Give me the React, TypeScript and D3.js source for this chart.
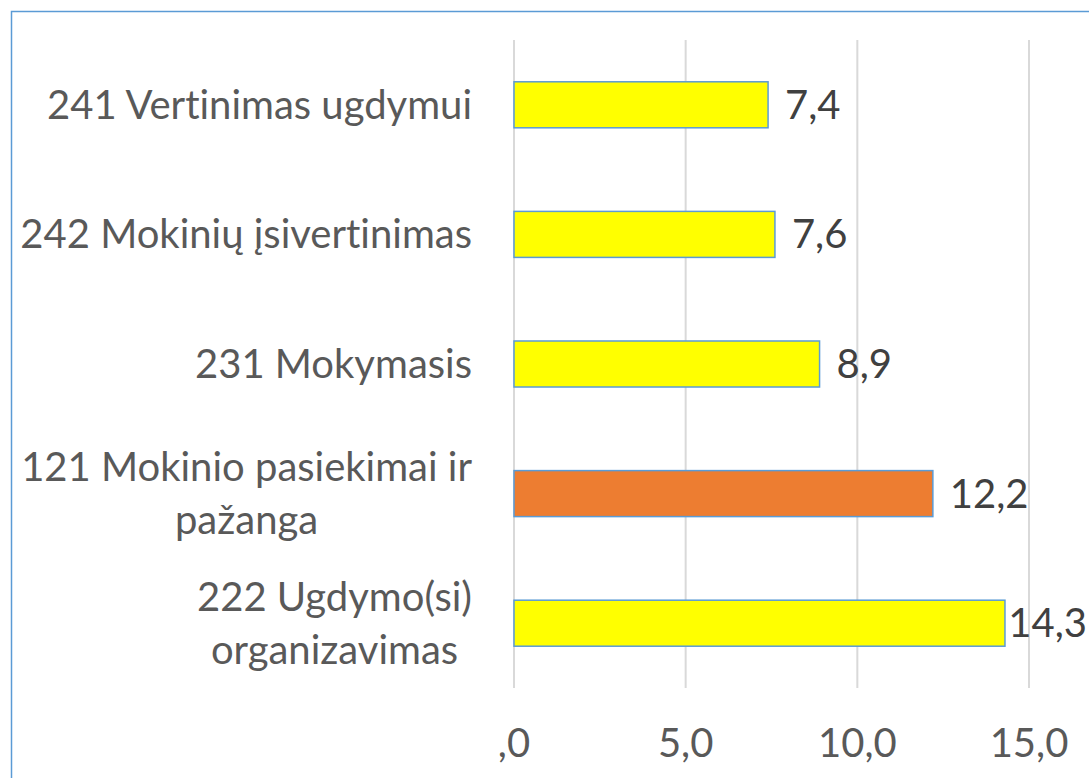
import { useEffect, useRef } from 'react';
import * as d3 from 'd3';

const categories = [
  '241 Vertinimas ugdymui',
  '242 Mokinių įsivertinimas',
  '231 Mokymasis',
  '121 Mokinio pasiekimai ir|pažanga',
  '222 Ugdymo(si)|organizavimas',
];
const values = [7.4, 7.6, 8.9, 12.2, 14.3];
const highlighted = ['121 Mokinio pasiekimai ir|pažanga'];
const xTicks = [0, 5, 10, 15];

const W = 1089;
const H = 778;
const FONT = 'Lato, "Open Sans", sans-serif';

export default function App() {
  const svgRef = useRef<SVGSVGElement | null>(null);

  useEffect(() => {
    if (!svgRef.current) return;
    const svg = d3.select(svgRef.current);
    svg.selectAll('*').remove();

    const MARGIN = { top: 40, right: 60, bottom: 90, left: 514 };
    const innerW = 1029 - MARGIN.left;
    const innerH = 688 - MARGIN.top;

    // chart frame
    svg.append('rect')
      .attr('x', 11.5).attr('y', 11.5)
      .attr('width', W + 20).attr('height', H + 20)
      .attr('fill', '#fff')
      .attr('stroke', '#5b9bd5')
      .attr('stroke-width', 1.5);

    const g = svg.append('g').attr('transform', `translate(${MARGIN.left},${MARGIN.top})`);

    const x = d3.scaleLinear().domain([0, 15]).range([0, innerW]);
    const y = d3.scaleBand().domain(categories).range([0, innerH]).paddingInner(0.645).paddingOuter(0.3225);

    // gridlines
    g.selectAll('.grid')
      .data(xTicks)
      .join('line')
      .attr('x1', d => x(d)).attr('x2', d => x(d))
      .attr('y1', 0).attr('y2', innerH)
      .attr('stroke', '#d9d9d9')
      .attr('stroke-width', 2);

    // tick labels
    g.selectAll('.tick-label')
      .data(xTicks)
      .join('text')
      .attr('x', d => x(d))
      .attr('y', 757 - MARGIN.top)
      .attr('text-anchor', 'middle')
      .attr('font-family', FONT)
      .attr('font-size', 40)
      .attr('fill', '#595959')
      .text(d => (d === 0 ? ',0' : d.toFixed(1).replace('.', ',')));

    // bars
    g.selectAll('.bar')
      .data(categories)
      .join('rect')
      .attr('x', 0)
      .attr('y', d => y(d)!)
      .attr('width', (d, i) => x(values[i]))
      .attr('height', y.bandwidth())
      .attr('fill', d => (highlighted.includes(d) ? '#ed7d31' : '#ffff00'))
      .attr('stroke', '#5b9bd5')
      .attr('stroke-width', 1.5);

    // value labels
    const labels = g.selectAll('.val')
      .data(categories)
      .join('text')
      .attr('y', d => y(d)! + y.bandwidth() / 2)
      .attr('dy', '0.35em')
      .attr('font-family', FONT)
      .attr('font-size', 40)
      .attr('fill', '#404040')
      .text((d, i) => values[i].toFixed(1).replace('.', ','));
    labels.each(function (d, i) {
      const el = this as SVGTextElement;
      const w = el.getComputedTextLength();
      const pos = Math.min(x(values[i]) + 17, W - 2 - MARGIN.left - w);
      d3.select(el).attr('x', pos);
    });

    // category labels, each block centred and right-aligned at 472
    const lineH = 53;
    categories.forEach(cat => {
      const lines = cat.split('|');
      const cy = MARGIN.top + y(cat)! + y.bandwidth() / 2;
      const t = svg.append('text')
        .attr('font-family', FONT)
        .attr('font-size', 40)
        .attr('fill', '#595959')
        .attr('text-anchor', 'middle')
        .style('font-variant-ligatures', 'none');
      const spans = lines.map((ln, k) =>
        t.append('tspan')
          .attr('y', cy + (k - (lines.length - 1) / 2) * lineH)
          .attr('dy', '0.35em')
          .text(ln));
      const maxW = d3.max(spans, s => (s.node() as SVGTSpanElement).getComputedTextLength()) || 0;
      spans.forEach(s => s.attr('x', 472 - maxW / 2));
    });
  }, []);

  return (
    <svg
      ref={svgRef}
      width={W}
      height={H}
      style={{ position: 'absolute', left: 0, top: 0, display: 'block', background: '#fff' }}
    />
  );
}
